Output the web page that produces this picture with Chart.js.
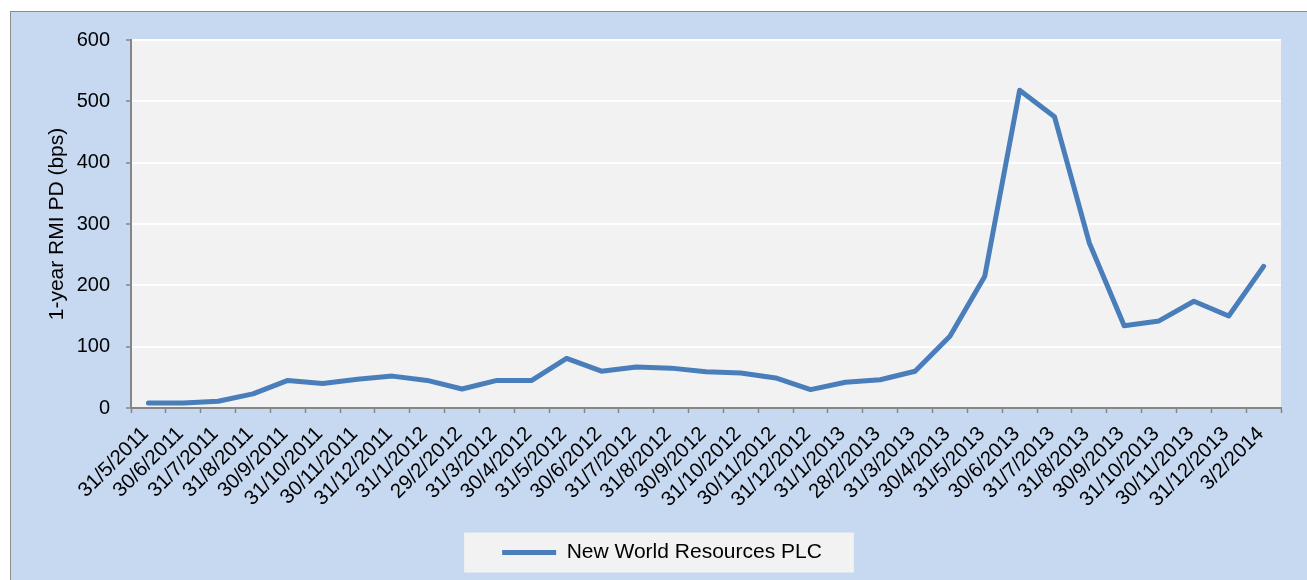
<!DOCTYPE html>
<html>
<head>
<meta charset="utf-8">
<script src="https://cdn.jsdelivr.net/npm/chart.js@4.4.0/dist/chart.umd.min.js"></script>
<style>
    body { margin: 0; background: #ffffff; overflow: hidden; }
    #frame {
        position: absolute; left: 10px; top: 11px;
        width: 1300px; height: 570px;
        border: 1px solid #8c8c8c;
        background: #c6d9f1;
    }
</style>
</head>
<body>
<div id="frame"><canvas id="myChart" width="1300" height="570"></canvas></div>
<script>
const dates = ['31/5/2011','30/6/2011','31/7/2011','31/8/2011','30/9/2011','31/10/2011','30/11/2011','31/12/2011',
    '31/1/2012','29/2/2012','31/3/2012','30/4/2012','31/5/2012','30/6/2012','31/7/2012','31/8/2012','30/9/2012',
    '31/10/2012','30/11/2012','31/12/2012','31/1/2013','28/2/2013','31/3/2013','30/4/2013','31/5/2013','30/6/2013',
    '31/7/2013','31/8/2013','30/9/2013','31/10/2013','30/11/2013','31/12/2013','3/2/2014'];
const pdValues = [8, 8, 11, 23, 45, 40, 47, 52, 45, 31, 45, 45, 81, 60, 67, 65, 59, 57, 49, 30, 42, 46, 60,
    117, 215, 518, 475, 269, 134, 142, 174, 150, 231];
const seriesName = 'New World Resources PLC';
const yTicks = [0, 100, 200, 300, 400, 500, 600];

const font = 'Arial, "Liberation Sans", sans-serif';

// plot background + legend box
const backdrop = {
    id: 'backdrop',
    beforeDraw(chart) {
        const ctx = chart.ctx;
        const a = chart.chartArea;
        ctx.save();
        ctx.fillStyle = '#f2f2f2';
        ctx.fillRect(a.left, a.top, a.right - a.left, a.bottom - a.top);
        const hb = chart.legend.legendHitBoxes[0];
        if (hb) {
            const cy = hb.top + hb.height / 2;
            ctx.fillRect(hb.left - 38, cy - 20, hb.width + 70, 40);
        }
        ctx.restore();
    }
};

const ctx = document.getElementById('myChart').getContext('2d');
const myChart = new Chart(ctx, {
    type: 'line',
    data: {
        labels: dates,
        datasets: [{
            label: seriesName,
            data: pdValues,
            borderColor: '#4a7ebb',
            backgroundColor: '#4a7ebb',
            borderWidth: 5,
            borderCapStyle: 'round',
            borderJoinStyle: 'round',
            pointRadius: 0,
            pointHoverRadius: 0,
            tension: 0,
            fill: false
        }]
    },
    options: {
        responsive: false,
        animation: false,
        layout: { padding: { left: 32, right: 30, top: 28, bottom: 9 } },
        plugins: {
            tooltip: { enabled: false },
            legend: {
                position: 'bottom',
                labels: {
                    usePointStyle: true,
                    pointStyle: 'line',
                    boxWidth: 54,
                    pointStyleWidth: 54,
                    color: '#000000',
                    padding: 10,
                    font: { family: font, size: 21 }
                }
            }
        },
        scales: {
            x: {
                offset: true,
                grid: {
                    offset: true,
                    drawOnChartArea: false,
                    drawTicks: true,
                    tickLength: 5,
                    tickColor: '#868686',
                    tickWidth: 1.5
                },
                border: { color: '#868686', width: 2 },
                ticks: {
                    autoSkip: false,
                    maxRotation: 45,
                    minRotation: 45,
                    padding: 9,
                    labelOffset: -3,
                    color: '#000000',
                    font: { family: font, size: 20.5 }
                },
                afterFit(scale) { scale.height = 124; }
            },
            y: {
                min: 0,
                max: 600,
                afterBuildTicks(scale) { scale.ticks = yTicks.map(v => ({ value: v })); },
                grid: {
                    color: '#ffffff',
                    lineWidth: 2,
                    tickLength: 5,
                    tickColor: '#868686',
                    tickWidth: 1.5
                },
                border: { color: '#868686', width: 2 },
                ticks: {
                    padding: 16,
                    color: '#000000',
                    font: { family: font, size: 20 }
                },
                title: {
                    display: true,
                    text: '1-year RMI PD (bps)',
                    color: '#000000',
                    padding: { top: 2, bottom: 0 },
                    font: { family: font, size: 21 }
                },
                afterFit(scale) { scale.width = 88; }
            }
        }
    },
    plugins: [backdrop]
});
</script>
</body>
</html>
